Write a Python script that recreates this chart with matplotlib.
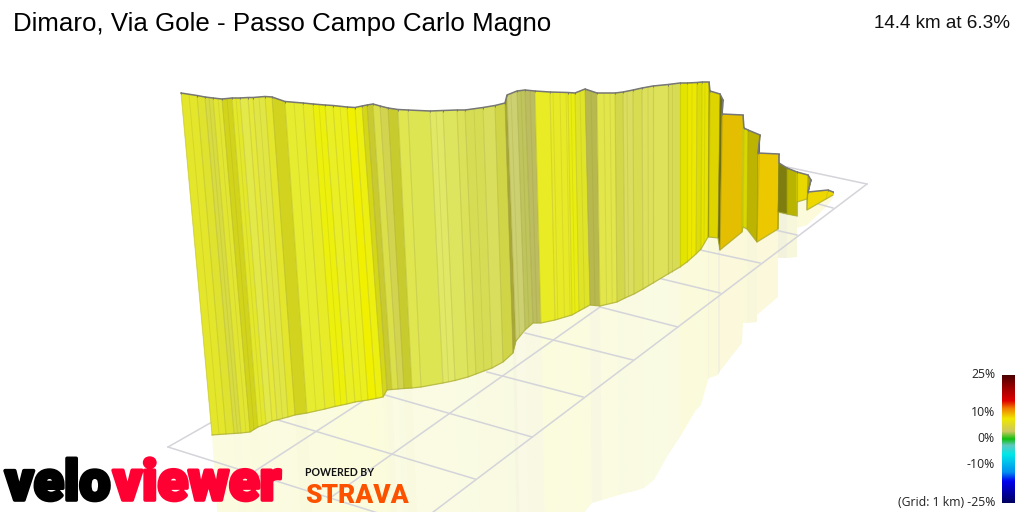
import numpy as np
import matplotlib
matplotlib.use("Agg")
import matplotlib.pyplot as plt
import matplotlib.patheffects as pe
from matplotlib.colors import LinearSegmentedColormap, to_rgb

# Wall profile (pixel positions of the 3D view)
top_x = [181,197,205,213,222,232,240,248,253,265,272,285,303,313,325,333,347,355,362,367,373,380,388,398,408,430,443,457,465,483,495,505,507,517,525,535,550,568,575,585,597,615,623,633,642,653,668,680,687,697,702,709,710,720,723,722,743,744,748,760,758,779,779,787,797,797,808,811,808,828,833]
top_y = [93,95.5,97,98,99,98,98,97.5,97.5,96.5,97,101.5,103,104,105,105.5,107,107.5,106,105,104,106,108,109.5,110,111,110.5,110,110,107.5,105.5,103,95,91,90,91,92,92.5,93,89,93,93,92,90,88,86,84.5,83,83,82.5,82,82,91,94,100,114,115,128,130,135,153,154,163,168,172,172,175,180,192,190,192]
base_x = [212,226,234,241,250,258,266,272,277,288,295,307,325,335,347,355,368,376,383,387,392,398,404,412,421,443,455,468,476,492,503,513,516,525,533,541,555,572,579,590,600,617,625,634,643,653,668,680,687,696,701,708,709,718,720,720,742,743,747,757,757,778,778,787,797,797,807,807,807,826,833]
base_y = [435,434,433.5,433,432,427,424,421,420,417,415,413,409,406.5,404,402,400,398.5,397,390,389.5,389,388.5,388,387,383,380.5,377,374,368,362,353,341,330,323,323,320,315,311,305,306,302,298,294,289,283,274,267,262,254,249,237,237,238,250,250,232,227,229,242,242,229,212,214,216,202,199,199,210,199,195]
refl_x = [219,233,241,248,257,265,273,279,284,295,302,314,332,342,353,361,374,382,389,393,398,404,410,418,427,449,460,473,481,497,508,517,520,529,537,545,559,575,582,592,602,619,626,635,644,654,668,680,687,696,701,708,709,718,720,720,742,743,747,757,757,778,778,787,797,797,807,807,807,826,833]
refl_y = [540]*38 + [515,503,500,495,493,491,488,480,455,437,425,410,405,380,378,375,371,371,343,323,323,322,315,297,258,258,257,228,225,225,225,207,198]
strip_colors = ["#e3e62a","#dfe22e","#d8dc40","#e2e632","#d2d41c","#e4e82c","#e4e94a","#e6e93a","#e2e644","#e3e62c",
"#d1d31f","#e6ec30","#e8ec28","#ecf00c","#eaee24","#ebef1e","#f0f000","#ecef10","#d4d618","#c8ca30",
"#dbe04a","#d2d450","#c8cb2e","#dfe650","#dde552","#e0e866","#dde55e","#dbe158","#d6dd55","#d9df5c",
"#d0d548","#a8a838","#cdd070","#bfc45c","#bcbc60","#e9ec24","#e8ea28","#eaee10","#e0e428","#b7b94e",
"#e2e64a","#d3d74a","#dadd5e","#d7dc50","#dce05a","#dde25a","#d8dc54","#e3e400","#ece800","#dcdc08",
"#e6e400","#9a9800","#ddd400","#6e6e10","#6e6e10","#e4be00","#d8d800","#d8d800","#bcb400","#4e4e10",
"#ecc800","#9a9600","#7e7e10","#b8b400","#d8d000","#e8d800","#b0a800","#6a6a10","#eed800","#eed800"]
# extra thin section lines seen on the wall (position along the top edge)
fine_top_x = [189,209,218,227,236,259,294,319,340,436,474,511,521,530,553,560,566,571,580,591,604,610,627,648,672,692,705]

# Floor grid segments
long_x0 = [168,252,330,416]; long_y0 = [447,473,498,525]
long_x1 = [300,380,600,867]; long_y1 = [372,390,307,184]
cross_x0 = [168,278,385,487,525,600,658,700,775,815,787]
cross_y0 = [447,420,395,372,333,307,278,250,230,203,167]
cross_x1 = [416,475,532,583,633,678,720,760,797,833,867]
cross_y1 = [525,479,437,397,360,327,293,263,235,208,184]

# Gradient scale
scale_labels = ["25%","10%","0%","-10%","(Grid: 1 km) -25%"]
scale_label_y = [375,413,438,464,503]
scale_stops = [(0,"#000060"),(0.17,"#0000f0"),(0.24,"#0090f0"),(0.38,"#00e8e8"),(0.45,"#60c8c0"),(0.50,"#10c010"),(0.56,"#ccc860"),(0.66,"#f0e800"),(0.74,"#f08000"),(0.80,"#e00000"),(0.92,"#8e0000"),(1,"#4a0000")]

title = "Dimaro, Via Gole - Passo Campo Carlo Magno"
summary = "14.4 km at 6.3%"

fig = plt.figure(figsize=(10.24,5.12), dpi=100, facecolor="white")
ax = fig.add_axes([0,0,1,1])
ax.set_xlim(0,1024); ax.set_ylim(512,0); ax.axis("off")

pale = np.array(to_rgb("#f2f27c"))
# reflection
for i,c in enumerate(strip_colors):
    rc = 0.45*np.array(to_rgb(c)) + 0.55*pale
    ax.fill([base_x[i],base_x[i+1],refl_x[i+1],refl_x[i]],[base_y[i],base_y[i+1],refl_y[i+1],refl_y[i]],
            facecolor=tuple(rc), alpha=0.19, edgecolor="none", zorder=1)
# grid
for a,b,c,d in zip(long_x0,long_y0,long_x1,long_y1):
    ax.plot([a,c],[b,d],color="#d4d4da",lw=1.1,zorder=2)
for a,b,c,d in zip(cross_x0,cross_y0,cross_x1,cross_y1):
    ax.plot([a,c],[b,d],color="#d4d4da",lw=1.1,zorder=2)
# wall
for i,c in enumerate(strip_colors):
    ax.fill([top_x[i],top_x[i+1],base_x[i+1],base_x[i]],[top_y[i],top_y[i+1],base_y[i+1],base_y[i]],
            facecolor=c, edgecolor=c, lw=0.3, zorder=3)
    ax.plot([top_x[i],base_x[i]],[top_y[i],base_y[i]],color="#8a8a20",alpha=0.22,lw=0.8,zorder=4)
n_mono = 52
for fx in fine_top_x:
    fy = np.interp(fx, top_x[:n_mono], top_y[:n_mono])
    bx = np.interp(fx, top_x[:n_mono], base_x[:n_mono])
    by = np.interp(fx, top_x[:n_mono], base_y[:n_mono])
    ax.plot([fx,bx],[fy,by],color="#8a8a20",alpha=0.16,lw=0.7,zorder=4)
ax.plot(base_x,base_y,color="#a8aa30",alpha=0.7,lw=0.9,zorder=4)
ax.plot(top_x,top_y,color="#777777",lw=1.1,zorder=5,marker="|",ms=2,mew=0.7)

# text
ax.text(13,24,title,fontsize=18.65,family="Liberation Sans",color="black",va="center",ha="left",zorder=6)
ax.text(1010,23,summary,fontsize=13.6,family="Liberation Sans",color="#111111",va="center",ha="right",zorder=6)
for s,y in zip(scale_labels,scale_label_y):
    ax.text(995,y,s,fontsize=8.8,family="Open Sans",color="#222222",va="center",ha="right",zorder=6)
cm = LinearSegmentedColormap.from_list("grad",scale_stops)
ax.imshow(np.linspace(1,0,256).reshape(-1,1),cmap=cm,extent=(1002,1015,503,375),aspect="auto",zorder=6,vmin=0,vmax=1)
ax.set_xlim(0,1024); ax.set_ylim(512,0)

# logos as text
ax.text(5,500,"velo",fontsize=40,family="Roboto",fontweight="black",color="black",va="baseline",ha="left",zorder=7,
        path_effects=[pe.withStroke(linewidth=2.6,foreground="black")])
ax.text(113,500,"viewer",fontsize=40.5,family="Roboto",fontweight="black",color="#ff0033",va="baseline",ha="left",zorder=7,
        path_effects=[pe.withStroke(linewidth=2.6,foreground="#ff0033")])
ax.text(305,473,"POWERED BY",fontsize=7.6,family="Lato",fontweight="bold",color="#111111",va="center",ha="left",zorder=7)
ax.text(305,503,"STRAVA",fontsize=19,family="Roboto",fontweight="black",color="#fc5200",va="baseline",ha="left",zorder=7)

fig.savefig("out.png",dpi=100)
